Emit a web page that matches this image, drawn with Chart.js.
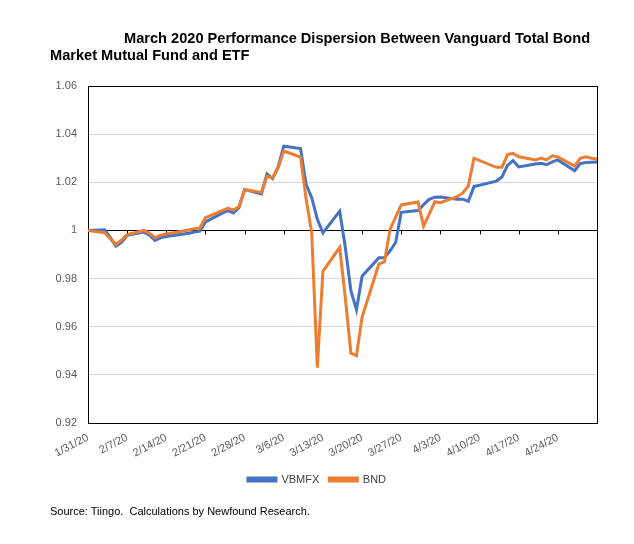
<!DOCTYPE html>
<html>
<head>
<meta charset="utf-8">
<script src="https://cdn.jsdelivr.net/npm/chart.js@4"></script>
<style>
    body { margin: 0; background: #fff; }
    #wrap { position: relative; width: 634px; height: 544px; font-family: "Liberation Sans", Arial, sans-serif; }
    #wrap canvas { position: absolute; left: 0; top: 0; }
    .title { position: absolute; font-weight: bold; font-size: 14.6px; line-height: 17px; color: #000; white-space: nowrap; }
    #source { position: absolute; left: 50px; top: 505px; font-size: 11px; color: #000; white-space: pre; }
</style>
</head>
<body>
<div id="wrap">
    <canvas id="myChart" width="634" height="544"></canvas>
    <div class="title" style="left:124px; top:30px;">March 2020 Performance Dispersion Between Vanguard Total Bond</div>
    <div class="title" style="left:50px; top:47px;">Market Mutual Fund and ETF</div>
    <div id="source">Source: Tiingo.  Calculations by Newfound Research.</div>
</div>
<script>
// trading days (2020) and growth of $1 from 1/31/20
const dates = ['1/31', '2/3', '2/4', '2/5', '2/6', '2/7', '2/10', '2/11', '2/12', '2/13', '2/14',
    '2/18', '2/19', '2/20', '2/21', '2/24', '2/25', '2/26', '2/27', '2/28',
    '3/2', '3/3', '3/4', '3/5', '3/6', '3/9', '3/10', '3/11', '3/12', '3/13',
    '3/16', '3/17', '3/18', '3/19', '3/20', '3/23', '3/24', '3/25', '3/26', '3/27',
    '3/30', '3/31', '4/1', '4/2', '4/3', '4/6', '4/7', '4/8', '4/9',
    '4/13', '4/14', '4/15', '4/16', '4/17', '4/20', '4/21', '4/22', '4/23', '4/24',
    '4/27', '4/28', '4/29', '4/30', '5/1'];

const vbmfx = [1.0, 1.0003, 0.997, 0.9935, 0.995, 0.998, 0.9993, 0.998, 0.9958, 0.997, 0.9975,
    0.9988, 0.9993, 0.9997, 1.0035, 1.0072, 1.0082, 1.0072, 1.0095, 1.017,
    1.0152, 1.0235, 1.0215, 1.0265, 1.035, 1.034, 1.019, 1.0136, 1.0046, 0.999,
    1.008, 0.993, 0.975, 0.967, 0.981, 0.9887, 0.9887, 0.9915, 0.995, 1.0075,
    1.0083, 1.0107, 1.0129, 1.0138, 1.0139, 1.013, 1.013, 1.0121, 1.0182,
    1.0205, 1.0222, 1.027, 1.029, 1.0264, 1.0276, 1.0279, 1.0273, 1.0285, 1.0293,
    1.0248, 1.0278, 1.0282, 1.0283, 1.0284];

const bnd = [1.0, 0.999, 0.9965, 0.9942, 0.996, 0.9983, 1.0, 0.9988, 0.997, 0.998, 0.9985,
    1.0002, 1.0007, 1.001, 1.0053, 1.0082, 1.0092, 1.0085, 1.0099, 1.017,
    1.0158, 1.0225, 1.0219, 1.026, 1.033, 1.0305, 1.013, 0.999, 0.943, 0.983,
    0.993, 0.972, 0.949, 0.948, 0.964, 0.986, 0.987, 1.0004, 1.0055, 1.0106,
    1.0118, 1.0018, 1.0068, 1.0119, 1.0115, 1.014, 1.0156, 1.0185, 1.030,
    1.0262, 1.0262, 1.0315, 1.032, 1.0306, 1.0293, 1.0301, 1.0293, 1.031, 1.0305,
    1.0267, 1.030, 1.0306, 1.030, 1.0297];

const seriesNames = ['VBMFX', 'BND'];

// weekly tick dates on the x axis
const tickDates = ['1/31', '2/7', '2/14', '2/21', '2/28', '3/6', '3/13', '3/20', '3/27',
    '4/3', '4/10', '4/17', '4/24'];

// days since 1/31/20, so the x axis behaves like a date axis
const startDay = Date.UTC(2020, 0, 31);
const toDay = (md) => {
    const p = md.split('/');
    return Math.round((Date.UTC(2020, p[0] - 1, +p[1]) - startDay) / 86400000);
};
const lastDay = toDay(dates[dates.length - 1]);

const toPoints = (vals) => vals.map((v, i) => ({ x: toDay(dates[i]), y: v }));

// plot box + small tick marks on the 1.0 axis line
const frame = {
    id: 'frame',
    beforeDatasetsDraw(chart) {
        const ctx = chart.ctx;
        const a = chart.chartArea;
        const xs = chart.scales.x;
        const y1 = chart.scales.y.getPixelForValue(1);
        ctx.save();
        ctx.strokeStyle = '#000';
        ctx.lineWidth = 1;
        ctx.beginPath();
        xs.ticks.forEach(t => {
            const px = Math.round(xs.getPixelForValue(t.value)) + 0.5;
            ctx.moveTo(px, y1);
            ctx.lineTo(px, y1 + 4);
        });
        ctx.stroke();
        ctx.strokeRect(Math.round(a.left) + 0.5, Math.round(a.top) + 0.5,
            Math.round(a.right - a.left), Math.round(a.bottom - a.top));
        ctx.restore();
    }
};

const ctx = document.getElementById('myChart').getContext('2d');
new Chart(ctx, {
    type: 'line',
    data: {
        datasets: [{
            label: seriesNames[0],
            data: toPoints(vbmfx),
            borderColor: '#4472C4',
            backgroundColor: '#4472C4',
            borderWidth: 3,
            pointRadius: 0,
            tension: 0,
            order: 2
        },
        {
            label: seriesNames[1],
            data: toPoints(bnd),
            borderColor: '#ED7D31',
            backgroundColor: '#ED7D31',
            borderWidth: 3,
            pointRadius: 0,
            tension: 0,
            order: 1
        }]
    },
    options: {
        responsive: false,
        animation: false,
        layout: { padding: { left: 0, right: 0, top: 86, bottom: 49 } },
        plugins: {
            title: { display: false },
            tooltip: { enabled: false },
            legend: {
                position: 'bottom',
                labels: {
                    boxWidth: 28,
                    boxHeight: 3,
                    color: '#404040',
                    font: { family: 'Liberation Sans', size: 11 },
                    sort: (a, b) => a.datasetIndex - b.datasetIndex
                }
            }
        },
        scales: {
            x: {
                type: 'linear',
                min: 0,
                max: lastDay,
                grid: { display: false },
                border: { display: false },
                afterFit: (s) => { s.height = 41; },
                afterBuildTicks: (s) => { s.ticks = tickDates.map(d => ({ value: toDay(d) })); },
                ticks: {
                    autoSkip: false,
                    padding: 0,
                    minRotation: 28,
                    maxRotation: 28,
                    color: '#595959',
                    font: { family: 'Liberation Sans', size: 11 },
                    callback: (v) => tickDates[tickDates.findIndex(d => toDay(d) === v)] + '/20'
                }
            },
            y: {
                min: 0.92,
                max: 1.06,
                afterFit: (s) => { s.width = 88; },
                border: { display: false },
                grid: {
                    drawTicks: false,
                    color: (c) => Math.abs(c.tick.value - 1) < 1e-9 ? '#000' : '#d9d9d9'
                },
                ticks: {
                    stepSize: 0.02,
                    padding: 11,
                    color: '#595959',
                    font: { family: 'Liberation Sans', size: 11 },
                    callback: (v) => Math.abs(v - 1) < 1e-9 ? '1' : v.toFixed(2)
                }
            },
            // empty right-hand strip so the plot stops where the reference does
            yr: {
                position: 'right',
                display: true,
                afterFit: (s) => { s.width = 37; },
                grid: { display: false },
                border: { display: false },
                ticks: { display: false }
            }
        }
    },
    plugins: [frame]
});
</script>
</body>
</html>
